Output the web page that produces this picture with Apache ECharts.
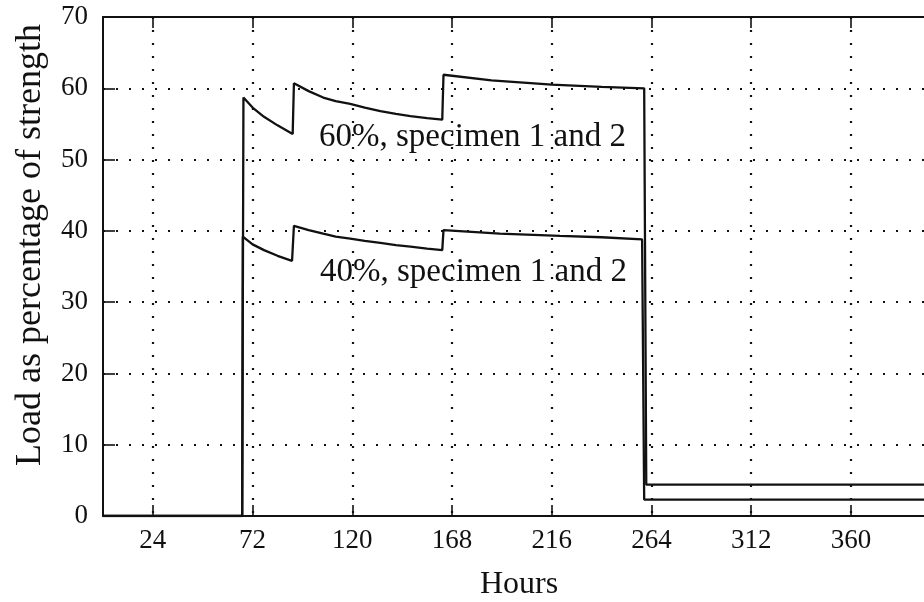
<!DOCTYPE html>
<html>
<head>
<meta charset="utf-8">
<script src="https://cdn.jsdelivr.net/npm/echarts@6/dist/echarts.min.js"></script>
<style>
  html, body { margin: 0; padding: 0; background: #fff; }
  #chart { width: 924px; height: 602px; }
</style>
</head>
<body>
<div id="chart"></div>
<script>
// Load history of the two test groups (hours, % of strength)
const hours60 = [0, 67, 67.6, 72, 77.5, 84, 91.3, 91.9, 99, 106, 112, 119, 126, 133.5, 141, 148, 156, 163.3, 163.9, 187, 216, 240, 260.5, 261.5, 400];
const load60  = [0, 0, 58.7, 57.3, 56.0, 54.8, 53.6, 60.7, 59.6, 58.7, 58.2, 57.8, 57.3, 56.8, 56.4, 56.1, 55.8, 55.6, 61.9, 61.1, 60.5, 60.2, 60.0, 4.4, 4.4];

const hours40 = [0, 67, 67.3, 72, 77.5, 84, 91.0, 91.9, 99, 106, 112, 119, 126, 133.5, 141, 148, 156, 163.3, 163.9, 191, 220, 240, 259.5, 260.5, 400];
const load40  = [0, 0, 39.2, 38.1, 37.3, 36.5, 35.8, 40.7, 40.1, 39.6, 39.2, 38.9, 38.6, 38.3, 38.0, 37.8, 37.5, 37.3, 40.1, 39.6, 39.3, 39.1, 38.8, 2.3, 2.3];

// Axis ticks
const hourTicks = [24, 72, 120, 168, 216, 264, 312, 360];
const loadTicks = [0, 10, 20, 30, 40, 50, 60, 70];

// Annotation texts
const label60 = '60%, specimen 1 and 2';
const label40 = '40%, specimen 1 and 2';
const xTitle = 'Hours';
const yTitle = 'Load as percentage of strength';

const FONT = '"Liberation Serif", "Times New Roman", serif';
const INK = '#111';

const pairs = (xs, ys) => xs.map((x, i) => [x, ys[i]]);

const dotted = { color: INK, width: 2.2, type: [2, 11] };

const chart = echarts.init(document.getElementById('chart'), null, { renderer: 'canvas' });

chart.setOption({
  animation: false,
  backgroundColor: '#fff',
  // plot area runs past the right edge of the page
  grid: { left: 103, width: 831, top: 17, bottom: 86, containLabel: false, outerBoundsMode: 'none' },
  xAxis: [
    {
      type: 'value', min: 0, max: 400, position: 'bottom',
      axisLine: { show: true, lineStyle: { color: INK, width: 2 } },
      axisTick: { show: true, inside: true, length: 11, customValues: hourTicks, lineStyle: { color: INK, width: 1.6 } },
      axisLabel: { show: true, customValues: hourTicks, margin: 11, fontFamily: FONT, fontSize: 27, color: INK },
      splitLine: { show: true, lineStyle: dotted }
    },
    {
      type: 'value', min: 0, max: 400, position: 'top',
      axisLine: { show: true, onZero: false, lineStyle: { color: INK, width: 2 } },
      axisTick: { show: true, inside: true, length: 11, customValues: hourTicks, lineStyle: { color: INK, width: 1.6 } },
      axisLabel: { show: false },
      splitLine: { show: false }
    }
  ],
  yAxis: {
    type: 'value', min: 0, max: 70, interval: 10,
    axisLine: { show: true, lineStyle: { color: INK, width: 2 } },
    axisTick: { show: true, inside: true, length: 12, lineStyle: { color: INK, width: 1.6 } },
    axisLabel: { show: true, margin: 15, fontFamily: FONT, fontSize: 27, color: INK,
                 customValues: loadTicks },
    splitLine: { show: true, lineStyle: dotted }
  },
  series: [
    {
      name: label60, type: 'line', xAxisIndex: 0, data: pairs(hours60, load60),
      showSymbol: false, symbol: 'none',
      lineStyle: { color: INK, width: 2.3 }, z: 5
    },
    {
      name: label40, type: 'line', xAxisIndex: 0, data: pairs(hours40, load40),
      showSymbol: false, symbol: 'none',
      lineStyle: { color: INK, width: 2.3 }, z: 5
    }
  ],
  graphic: [
    { type: 'text', left: 319, top: 121, z: 10,
      style: { text: label60, font: '33px ' + FONT, fill: INK } },
    { type: 'text', left: 320, top: 256, z: 10,
      style: { text: label40, font: '33px ' + FONT, fill: INK } },
    { type: 'text', x: 519, y: 585, z: 10,
      style: { text: xTitle, font: '32px ' + FONT, fill: INK, align: 'center', verticalAlign: 'middle' } },
    { type: 'text', x: 31, y: 245, rotation: Math.PI / 2, z: 10,
      style: { text: yTitle, font: '36px ' + FONT, fill: INK, align: 'center', verticalAlign: 'middle' } }
  ]
});
</script>
</body>
</html>
